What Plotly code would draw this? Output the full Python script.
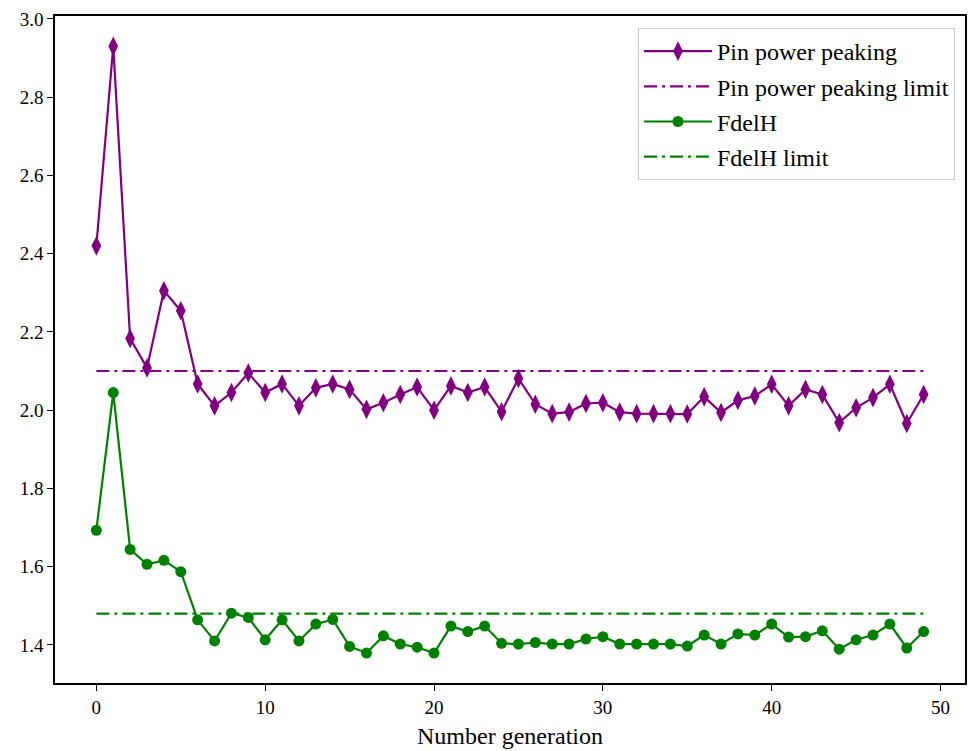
import plotly.graph_objects as go

generations = list(range(50))
pin_power_peaking = [2.42, 2.93, 2.183, 2.108, 2.305, 2.254, 2.067, 2.011, 2.045, 2.095,
                     2.045, 2.067, 2.011, 2.057, 2.067, 2.053, 2.002, 2.019, 2.040, 2.059,
                     2.000, 2.062, 2.045, 2.059, 1.996, 2.081, 2.015, 1.991, 1.995, 2.017,
                     2.019, 1.995, 1.991, 1.991, 1.991, 1.990, 2.034, 1.994, 2.025, 2.036,
                     2.066, 2.011, 2.053, 2.040, 1.968, 2.006, 2.032, 2.066, 1.966, 2.040]
fdelh = [1.693, 2.045, 1.644, 1.606, 1.616, 1.587, 1.464, 1.410, 1.481, 1.470,
         1.413, 1.464, 1.410, 1.453, 1.465, 1.396, 1.379, 1.423, 1.402, 1.394,
         1.379, 1.448, 1.434, 1.448, 1.404, 1.402, 1.406, 1.402, 1.402, 1.415,
         1.421, 1.402, 1.402, 1.402, 1.402, 1.397, 1.425, 1.402, 1.428, 1.425,
         1.453, 1.420, 1.421, 1.436, 1.389, 1.413, 1.425, 1.453, 1.392, 1.434]
pin_limit = 2.10
fdelh_limit = 1.48

purple = "#800080"
green = "#008000"
dashdot = "13px,5px,3px,5px"

fig = go.Figure()
fig.add_trace(go.Scatter(x=generations, y=pin_power_peaking, mode="lines+markers",
                         name="Pin power peaking", legendgroup="a",
                         line=dict(color=purple, width=2.2),
                         marker=dict(symbol="diamond-tall", size=14, color=purple)))
fig.add_trace(go.Scatter(x=generations, y=[pin_limit] * len(generations), mode="lines",
                         name="Pin power peaking limit", legendgroup="b",
                         line=dict(color=purple, width=2.2, dash=dashdot)))
fig.add_trace(go.Scatter(x=generations, y=fdelh, mode="lines+markers",
                         name="FdelH", legendgroup="c",
                         line=dict(color=green, width=2.2),
                         marker=dict(symbol="circle", size=11, color=green)))
fig.add_trace(go.Scatter(x=generations, y=[fdelh_limit] * len(generations), mode="lines",
                         name="FdelH limit", legendgroup="d",
                         line=dict(color=green, width=2.2, dash=dashdot)))

font_family = "Liberation Serif"
fig.update_layout(
    width=969, height=751,
    margin=dict(l=55, r=2, t=16, b=68),
    paper_bgcolor="white", plot_bgcolor="white",
    font=dict(family=font_family, size=19, color="black"),
    showlegend=True,
    legend=dict(x=0.989, y=0.982, xanchor="right", yanchor="top",
                bordercolor="#cccccc", borderwidth=1, bgcolor="rgba(255,255,255,0.8)",
                font=dict(family=font_family, size=24), tracegroupgap=1,
                itemwidth=68),
    xaxis=dict(range=[-2.45, 51.45], tickvals=[0, 10, 20, 30, 40, 50],
               showline=True, linecolor="black", linewidth=1.5, mirror=True,
               ticks="outside", ticklen=6, tickwidth=1.3, tickcolor="black",
               showgrid=False, zeroline=False,
               title=dict(text="Number generation", standoff=11,
                          font=dict(family=font_family, size=24))),
    yaxis=dict(range=[1.3025, 3.0075], tickvals=[1.4, 1.6, 1.8, 2.0, 2.2, 2.4, 2.6, 2.8, 3.0],
               tickformat=".1f",
               showline=True, linecolor="black", linewidth=1.5, mirror=True,
               ticks="outside", ticklen=6, tickwidth=1.3, tickcolor="black",
               showgrid=False, zeroline=False),
)

fig.write_html("out.html")
